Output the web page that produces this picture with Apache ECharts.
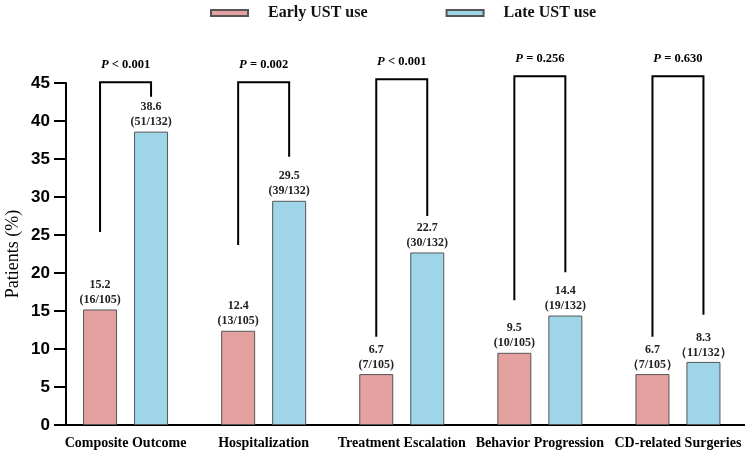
<!DOCTYPE html>
<html>
<head>
<meta charset="UTF-8">
<title>Early vs Late UST use</title>
<script src="https://cdn.jsdelivr.net/npm/echarts@6/dist/echarts.min.js"></script>
<style>
  html, body { margin: 0; padding: 0; background: #fff; }
  #chart { width: 745px; height: 461px; }
</style>
</head>
<body>
<div id="chart"></div>
<script>
// data
var categories = ['Composite Outcome', 'Hospitalization', 'Treatment Escalation', 'Behavior Progression', 'CD-related Surgeries'];
var earlyValues = [15.2, 12.4, 6.7, 9.5, 6.7];
var lateValues = [38.6, 29.5, 22.7, 14.4, 8.3];
var earlyCounts = ['(16/105)', '(13/105)', '(7/105)', '(10/105)', '（7/105）'];
var lateCounts = ['(51/132)', '(39/132)', '(30/132)', '(19/132)', '（11/132）'];
var pTexts = ['< 0.001', '= 0.002', '< 0.001', '= 0.256', '= 0.630'];
// bracket: top level, left leg end, right leg end (in % units)
var bracketTop = [45.1, 45.1, 45.5, 45.9, 45.9];
var bracketLeftEnd = [25.4, 23.7, 11.6, 16.4, 11.6];
var bracketRightEnd = [43.2, 35.3, 27.5, 20.1, 14.5];
var yTicks = { min: 0, max: 45, interval: 5 };

var serif = '"Liberation Serif", "Times New Roman", serif';
var barW = 34;
var pairOffset = 25.5; // half of barWidth + gap

var chart = echarts.init(document.getElementById('chart'));

function labelFor(counts) {
  return function (p) {
    return p.value.toFixed(1) + '\n' + counts[p.dataIndex];
  };
}

var bracketData = categories.map(function (c, i) {
  return [i, bracketTop[i], bracketLeftEnd[i], bracketRightEnd[i]];
});

var option = {
  animation: false,
  legend: {
    top: 0,
    left: 205,
    itemWidth: 37,
    itemHeight: 6,
    itemGap: 78,
    icon: 'rect',
    data: ['Early UST use', 'Late UST use'],
    textStyle: { fontFamily: serif, fontWeight: 'bold', fontSize: 16, color: '#111', padding: [0, 0, 0, 15] }
  },
  grid: { left: 56.5, right: -2, top: 83, bottom: 36, containLabel: false, outerBoundsMode: 'none' },
  xAxis: {
    type: 'category',
    data: categories,
    axisLine: { lineStyle: { color: '#000', width: 2 } },
    axisTick: { alignWithLabel: true, length: 8, lineStyle: { color: '#000', width: 2 } },
    axisLabel: { interval: 0, hideOverlap: false, fontFamily: serif, fontWeight: 'bold', fontSize: 14, color: '#000', margin: 11 }
  },
  yAxis: {
    type: 'value',
    min: yTicks.min, max: yTicks.max, interval: yTicks.interval,
    offset: -9.5,
    name: 'Patients (%)',
    nameLocation: 'middle',
    nameGap: 44,
    nameMoveOverlap: false,
    nameTextStyle: { fontFamily: serif, fontSize: 18, color: '#000' },
    axisLine: { show: true, lineStyle: { color: '#000', width: 2 } },
    axisTick: { show: true, length: 12, lineStyle: { color: '#000', width: 2 } },
    splitLine: { show: false },
    axisLabel: { fontFamily: '"Liberation Sans", Arial, sans-serif', fontWeight: 'bold', fontSize: 17, color: '#000', margin: 16 }
  },
  series: [
    {
      name: 'Early UST use',
      type: 'bar',
      data: earlyValues,
      barWidth: barW,
      barGap: '50%',
      itemStyle: { color: '#E3A19F', borderColor: '#555', borderWidth: 1 },
      label: {
        show: true, position: 'top', distance: 2,
        formatter: labelFor(earlyCounts),
        fontFamily: serif, fontWeight: 'bold', fontSize: 12, lineHeight: 15, color: '#222'
      }
    },
    {
      name: 'Late UST use',
      type: 'bar',
      data: lateValues,
      barWidth: barW,
      barGap: '50%',
      itemStyle: { color: '#9ED5E8', borderColor: '#555', borderWidth: 1 },
      label: {
        show: true, position: 'top', distance: 2,
        formatter: labelFor(lateCounts),
        fontFamily: serif, fontWeight: 'bold', fontSize: 12, lineHeight: 15, color: '#222'
      }
    },
    {
      type: 'custom',
      clip: false,
      silent: true,
      data: bracketData,
      encode: { x: 0, y: 1 },
      renderItem: function (params, api) {
        var i = api.value(0);
        var cx = api.coord([i, 0])[0];
        var xl = cx - pairOffset, xr = cx + pairOffset;
        var yt = api.coord([i, api.value(1)])[1];
        var yl = api.coord([i, api.value(2)])[1];
        var yr = api.coord([i, api.value(3)])[1];
        return {
          type: 'group',
          children: [
            {
              type: 'polyline',
              shape: { points: [[xl, yl], [xl, yt], [xr, yt], [xr, yr]] },
              style: { stroke: '#000', lineWidth: 2, fill: null }
            },
            {
              type: 'text',
              x: cx, y: yt - 17,
              style: {
                text: '{i|P} {n|' + pTexts[i] + '}',
                align: 'center', verticalAlign: 'middle',
                rich: {
                  i: { fontFamily: serif, fontStyle: 'italic', fontWeight: 'bold', fontSize: 12.5, fill: '#000' },
                  n: { fontFamily: serif, fontWeight: 'bold', fontSize: 12.5, fill: '#000' }
                }
              }
            }
          ]
        };
      }
    }
  ]
};

chart.setOption(option);
</script>
</body>
</html>
